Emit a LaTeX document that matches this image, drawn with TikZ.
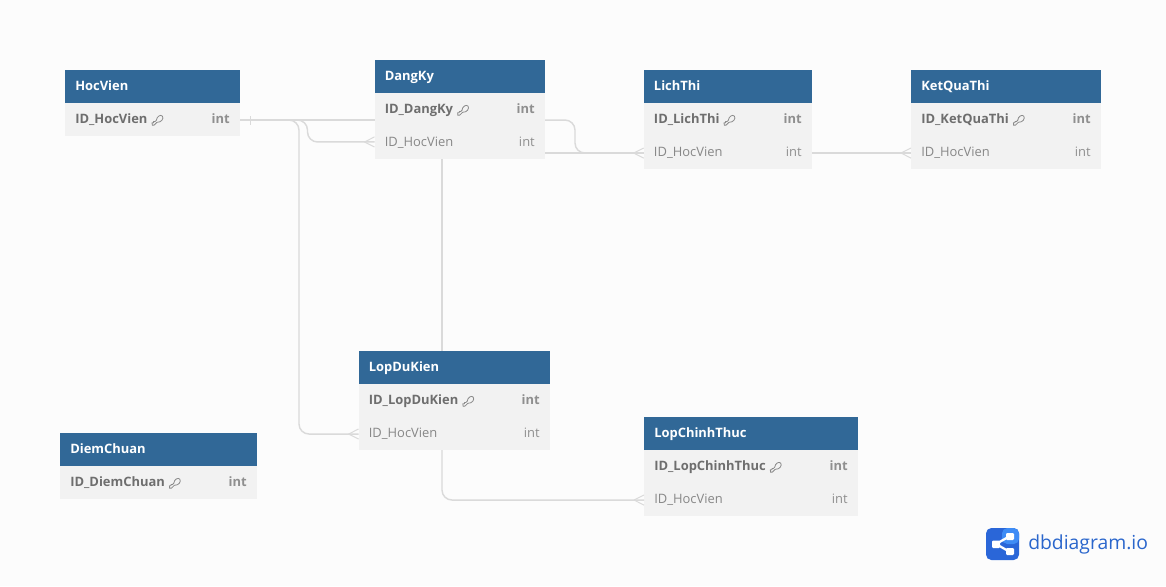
\documentclass[tikz,border=0pt]{standalone}
\usepackage{fontspec}
\setmainfont{Open Sans}
\definecolor{pagebg}{HTML}{FCFCFC}
\definecolor{headbg}{HTML}{316897}
\definecolor{rowbg}{HTML}{F2F2F2}
\definecolor{linec}{HTML}{DADADA}
\definecolor{pktext}{HTML}{6E6E6E}
\definecolor{typetext}{HTML}{8F8F8F}
\definecolor{fktext}{HTML}{878787}
\definecolor{keyc}{HTML}{8A8A8A}
\definecolor{logoa}{HTML}{2A66D8}
\definecolor{logob}{HTML}{3F8CF5}
\definecolor{logotext}{HTML}{2A66CC}
\tikzset{
  x=0.75pt,y=-0.75pt,
  tablehead/.style={fill=headbg,draw=none,inner sep=0,outer sep=0,anchor=north west,minimum height=24.75pt},
  tablerow/.style={fill=rowbg,draw=none,inner sep=0,outer sep=0,anchor=north west,minimum height=24.75pt},
  tabletext/.style={inner sep=0,text height=7.4pt,text depth=2.1pt,font=\fontsize{9.7}{12}\selectfont},
  headlabel/.style={tabletext,text=white,font=\fontsize{9.7}{12}\selectfont\bfseries,anchor=west},
  pklabel/.style={tabletext,text=pktext,font=\fontsize{9.7}{12}\selectfont\bfseries,anchor=west},
  fklabel/.style={tabletext,text=fktext,anchor=west},
  typebold/.style={tabletext,text=typetext,font=\fontsize{9.7}{12}\selectfont\bfseries,anchor=east},
  typeplain/.style={tabletext,text=typetext,anchor=east},
  link/.style={draw=linec,line width=1.1pt,rounded corners=7.5pt},
  crow/.style={draw=linec,line width=0.75pt},
  keyicon/.style={draw=keyc,line width=0.6pt,line cap=round,line join=round}
}
% name, x, y, width, title, pk text
\newcommand{\dbhead}[6]{%
  \node[tablehead,minimum width=#4*0.75pt] (#1h) at (#2,#3) {};
  \node[headlabel] at ([xshift=7.5pt]#1h.west) {#5};
  \node[tablerow,minimum width=#4*0.75pt] (#1p) at (#1h.south west) {};
  \node[pklabel] (#1pl) at ([xshift=7.5pt]#1p.west) {#6};
  \node[typebold] at ([xshift=-7.5pt]#1p.east) {int};
  \begin{scope}[shift={([xshift=7pt,yshift=-0.3pt]#1pl.east)},x=1pt,y=1pt]
    \draw[keyicon] (-3.6,-3.9) -- (-3.8,-2.2) -- (-2.6,-2.2) -- (-2.6,-1.2) -- (-1.5,-1.2) -- (-0.5,-0.2);
    \draw[keyicon] (-3.6,-3.9) -- (-2.2,-3.9) -- (-0.1,-1.8);
    \draw[keyicon] (-0.5,-0.2) .. controls (-0.3,2.6) and (2.8,4.4) .. (4,2.8) .. controls (5.2,1.2) and (3.4,-2) .. (-0.1,-1.8);
  \end{scope}
}
\begin{document}
\begin{tikzpicture}
\useasboundingbox (0,0) rectangle (1166,586);
\fill[pagebg] (0,0) rectangle (1166,586);

% tables
\dbhead{hv}{65}{70}{175}{HocVien}{ID\_HocVien}
\dbhead{dk}{374.5}{60}{170.5}{DangKy}{ID\_DangKy}
\dbhead{lt}{643.7}{70}{168.3}{LichThi}{ID\_LichThi}
\dbhead{kq}{911}{70}{190}{KetQuaThi}{ID\_KetQuaThi}
\dbhead{ld}{358.6}{351}{191.4}{LopDuKien}{ID\_LopDuKien}
\dbhead{lc}{644}{417}{214}{LopChinhThuc}{ID\_LopChinhThuc}
\dbhead{dc}{60}{433}{197}{DiemChuan}{ID\_DiemChuan}

% foreign key rows
\node[tablerow,minimum width=127.9pt] (dkf) at (dkp.south west) {};
\node[tablerow,minimum width=126.2pt] (ltf) at (ltp.south west) {};
\node[tablerow,minimum width=142.5pt] (kqf) at (kqp.south west) {};
\node[tablerow,minimum width=143.55pt] (ldf) at (ldp.south west) {};
\node[tablerow,minimum width=160.5pt] (lcf) at (lcp.south west) {};
\foreach \t in {dk,lt,kq,ld,lc}{
  \node[fklabel] at ([xshift=7.5pt]\t f.west) {ID\_HocVien};
  \node[typeplain] at ([xshift=-7.5pt]\t f.east) {int};
}

% named ends on the table edges
\coordinate (hvout) at ([yshift=-0.4pt]hvp.east);
\coordinate (dkin) at (hvout -| dkp.west);
\coordinate (dkfk) at ([yshift=0.4pt]dkf.west);
\coordinate (ldfk) at ([yshift=-0.4pt]ldf.west);
\coordinate (ltfk) at ([yshift=-0.4pt]ltf.west);
\coordinate (kqfk) at ([yshift=-0.4pt]kqf.west);
\coordinate (lcfk) at ([yshift=-0.4pt]lcf.west);
\coordinate (ltout) at ([yshift=-0.4pt]ltf.east);
\coordinate (dkout) at (dkin -| dkp.east);
\coordinate (dkout2) at (ltfk -| dkf.east);
\coordinate (dkdown) at (442,0 |- dkf.south);
\coordinate (lddown) at (442,0 |- ldf.south);
\coordinate (ldtop) at (442,0 |- ldh.north);
\coordinate (bendA) at (299,0 |- hvout);
\coordinate (bendB) at (299,0 |- ldfk);
\coordinate (bendC) at (307.5,0 |- hvout);
\coordinate (bendD) at (307.5,0 |- dkfk);
\coordinate (bendE) at (575,0 |- dkout);
\coordinate (bendF) at (575,0 |- ltfk);
\coordinate (bendG) at (442,0 |- lcfk);

% connectors
\draw[link] (hvout) -- (dkin);
\draw[link] (hvout) -- (bendA) -- (bendB) -- (ldfk);
\draw[link] (hvout) -- (bendC) -- (bendD) -- (dkfk);
\draw[link] (dkout) -- (bendE) -- (bendF) -- (ltfk);
\draw[link] (dkout2) -- (ltfk);
\draw[link] (ltout) -- (kqfk);
\draw[link] (dkdown) -- (ldtop);
\draw[link] (lddown) -- (bendG) -- (lcfk);

% one-end tick
\draw[crow] ([xshift=7.5pt,yshift=-3.4pt]hvout) -- ([xshift=7.5pt,yshift=3.4pt]hvout);
% crow's feet
\foreach \c in {dkfk,ldfk,ltfk,kqfk,lcfk}{
  \draw[crow] ([xshift=-7.5pt]\c) -- ([yshift=3.8pt]\c);
  \draw[crow] ([xshift=-7.5pt]\c) -- ([yshift=-3.8pt]\c);
}

% logo
\fill[logoa,rounded corners=4pt] (986,528) rectangle (1019,560);
\fill[logob,rounded corners=4pt] (1002,528) rectangle (1019,544);
\draw[white,line width=1.7pt] (1010,536) -- (996,544) -- (1010,552);
\fill[white,rounded corners=0.8pt] (992,540.5) rectangle (1000,548);
\fill[white,rounded corners=0.8pt] (1006,533) rectangle (1014,540);
\fill[white,rounded corners=0.8pt] (1006,548) rectangle (1014,555);
\node[text=logotext,font=\fontsize{14.5}{18}\selectfont,anchor=west,inner sep=0] (logoname) at (1028,544) {dbdiagram.io};
\end{tikzpicture}
\end{document}
